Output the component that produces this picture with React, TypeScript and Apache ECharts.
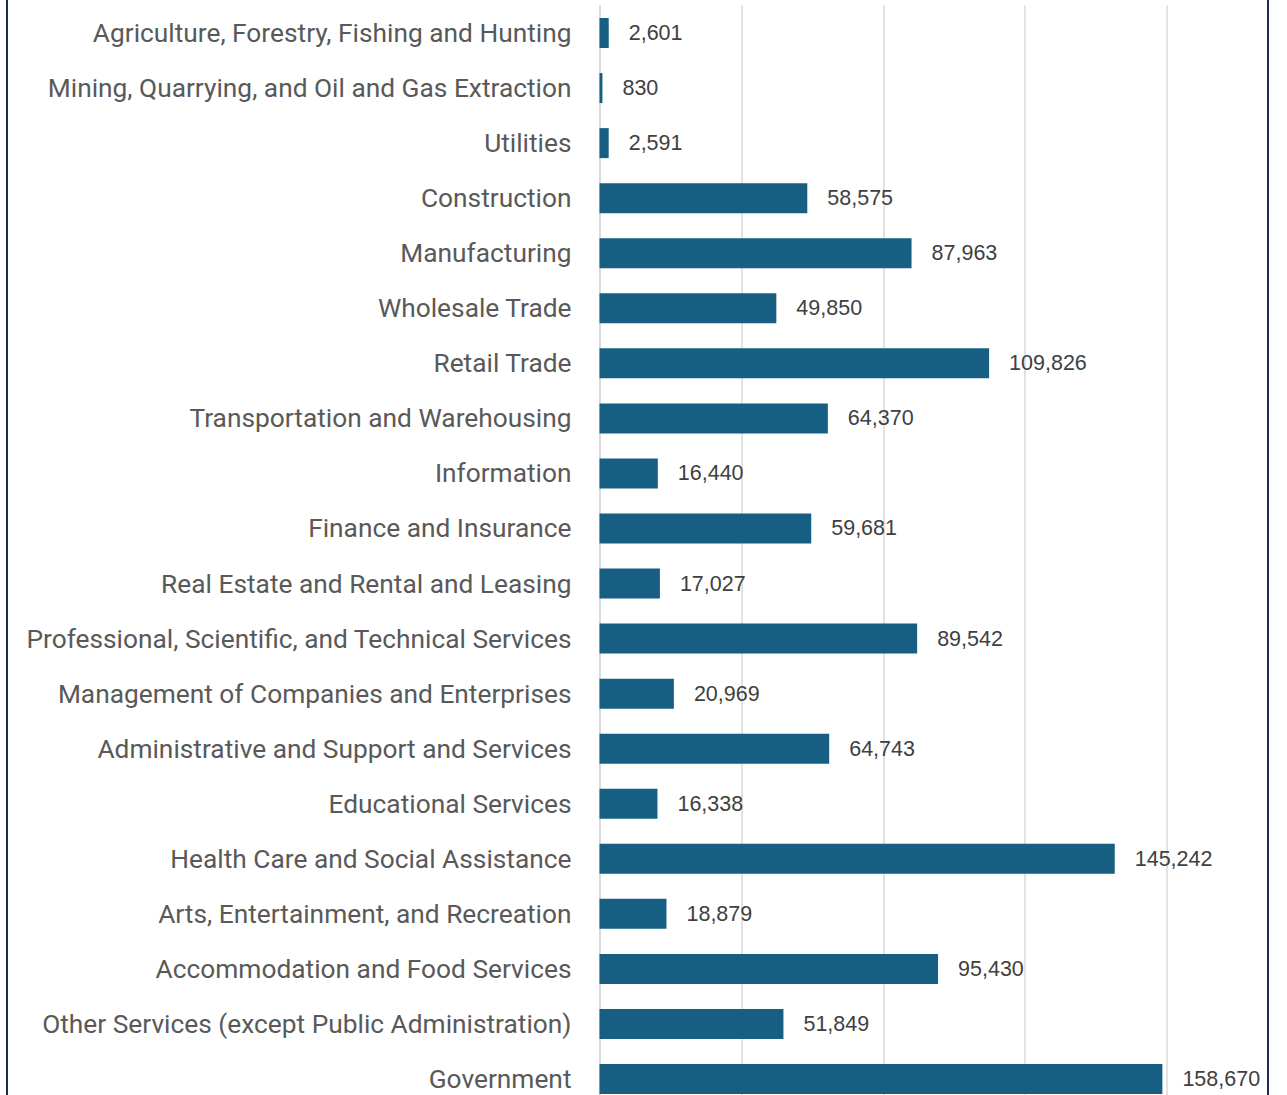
import React, { useEffect, useRef } from "react";
import * as echarts from "echarts";

const categories: string[] = [
  "Agriculture, Forestry, Fishing and Hunting",
  "Mining, Quarrying, and Oil and Gas Extraction",
  "Utilities",
  "Construction",
  "Manufacturing",
  "Wholesale Trade",
  "Retail Trade",
  "Transportation and Warehousing",
  "Information",
  "Finance and Insurance",
  "Real Estate and Rental and Leasing",
  "Professional, Scientific, and Technical Services",
  "Management of Companies and Enterprises",
  "Administrative and Support and Services",
  "Educational Services",
  "Health Care and Social Assistance",
  "Arts, Entertainment, and Recreation",
  "Accommodation and Food Services",
  "Other Services (except Public Administration)",
  "Government",
];

const values: number[] = [
  2601, 830, 2591, 58575, 87963, 49850, 109826, 64370, 16440, 59681, 17027,
  89542, 20969, 64743, 16338, 145242, 18879, 95430, 51849, 158670,
];

const xMin = 0;
const xMax = 200000;
const xInterval = 40000;

export default function App() {
  const ref = useRef<HTMLDivElement>(null);

  useEffect(() => {
    if (!ref.current) return;
    const chart = echarts.init(ref.current, undefined, { renderer: "svg" });
    chart.setOption({
      animation: false,
      backgroundColor: "#ffffff",
      grid: {
        left: 599.5,
        top: 5.5,
        width: 709.5,
        height: 1101,
        containLabel: false,
      },
      xAxis: {
        type: "value",
        min: xMin,
        max: xMax,
        interval: xInterval,
        axisLabel: { show: false },
        axisLine: { show: false },
        axisTick: { show: false },
        splitLine: { show: true, lineStyle: { color: "#d9d9d9", width: 1.5 } },
      },
      yAxis: {
        type: "category",
        inverse: true,
        data: categories,
        axisLine: { show: true, lineStyle: { color: "#d9d9d9", width: 1.5 } },
        axisTick: { show: false },
        axisLabel: {
          margin: 28,
          color: "#595959",
          fontSize: 26.3,
          lineHeight: 24,
          fontFamily: "Roboto",
        },
      },
      series: [
        {
          type: "bar",
          data: values,
          barWidth: 30,
          itemStyle: { color: "#175f82" },
          label: {
            show: true,
            position: "right",
            distance: 20,
            color: "#404040",
            fontSize: 21.5,
            fontFamily: "Liberation Sans",
            formatter: (p: any) => Number(p.value).toLocaleString("en-US"),
          },
        },
      ],
      graphic: [
        {
          type: "line",
          shape: { x1: 7, y1: 0, x2: 7, y2: 1120 },
          style: { stroke: "#1f2b57", lineWidth: 2 },
          z: 100,
        },
        {
          type: "line",
          shape: { x1: 1268, y1: 0, x2: 1268, y2: 1120 },
          style: { stroke: "#1f2b57", lineWidth: 2 },
          z: 100,
        },
      ],
    });
    return () => chart.dispose();
  }, []);

  return (
    <div
      style={{
        position: "fixed",
        left: 0,
        top: 0,
        width: 1287,
        height: 1095,
        overflow: "hidden",
        background: "#ffffff",
      }}
    >
      <div ref={ref} style={{ width: 1400, height: 1120 }} />
    </div>
  );
}
